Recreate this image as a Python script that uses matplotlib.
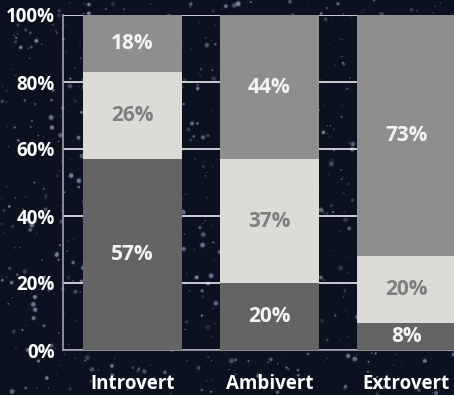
import numpy as np
import matplotlib.pyplot as plt

categories = ['Introvert', 'Ambivert', 'Extrovert']
low = [57, 20, 8]
mid = [26, 37, 20]
high = [18, 44, 73]
yticks = [0, 20, 40, 60, 80, 100]

plt.rcParams['font.family'] = ['Open Sans', 'DejaVu Sans']

fig = plt.figure(figsize=(4.54, 3.95), dpi=100)
fig.patch.set_facecolor('#0c1120')

# star field behind the chart
bg = fig.add_axes([0, 0, 1, 1])
bg.set_facecolor('#0c1120')
rng = np.random.default_rng(7)
n = 1000
sx, sy = rng.random(n), rng.random(n)
ss = rng.random(n) ** 4 * 10 + 0.4
sa = rng.random(n) * 0.4 + 0.12
bg.scatter(sx, sy, s=ss * 2.5, c='#8a94b8', alpha=sa * 0.35, linewidths=0)
bg.scatter(sx, sy, s=ss, c='#d0d8f0', alpha=sa, linewidths=0)
bg.set_xlim(0, 1)
bg.set_ylim(0, 1)
bg.axis('off')

ax = fig.add_axes([63 / 454, 45 / 395, 412 / 454, 335 / 395])
ax.patch.set_alpha(0)
x = np.arange(len(categories))
w = 0.72
c_low, c_mid, c_high = '#646464', '#dcdbd8', '#8e8e8c'

ax.bar(x, low, w, color=c_low, zorder=3)
ax.bar(x, mid, w, bottom=low, color=c_mid, zorder=3)
bottom_high = np.array(low) + np.array(mid)
ax.bar(x, high, w, bottom=bottom_high, color=c_high, zorder=3)

fs = 15
for i in range(len(categories)):
    ax.text(x[i], low[i] / 2, f'{low[i]}%', ha='center', va='center',
            color='#f4f4f4', fontsize=fs, fontweight='bold', zorder=4)
    ax.text(x[i], low[i] + mid[i] / 2, f'{mid[i]}%', ha='center', va='center',
            color='#7f7f7f', fontsize=fs, fontweight='bold', zorder=4)
    top_c = min(bottom_high[i] + high[i], 100)
    ax.text(x[i], (bottom_high[i] + top_c) / 2, f'{high[i]}%', ha='center', va='center',
            color='#f4f4f4', fontsize=fs, fontweight='bold', zorder=4)

ax.set_xlim(-0.507, 2.5)
ax.set_ylim(0, 100)
ax.set_yticks(yticks)
ax.set_yticklabels([f'{t}%' for t in yticks])
ax.set_xticks(x)
ax.set_xticklabels(categories)
ax.tick_params(axis='both', length=0, colors='white', labelsize=13.5)
ax.tick_params(axis='y', pad=6)
ax.tick_params(axis='x', pad=17)
for lab in ax.get_xticklabels() + ax.get_yticklabels():
    lab.set_fontweight('bold')

ax.grid(axis='y', color='#ffffff', linewidth=1.1, zorder=1)
for s in ['top', 'right']:
    ax.spines[s].set_visible(False)
for s in ['left', 'bottom']:
    ax.spines[s].set_color('#a0a0a8')
    ax.spines[s].set_linewidth(1.2)
    ax.spines[s].set_zorder(2)

fig.savefig('out.png', dpi=100, facecolor=fig.get_facecolor())
